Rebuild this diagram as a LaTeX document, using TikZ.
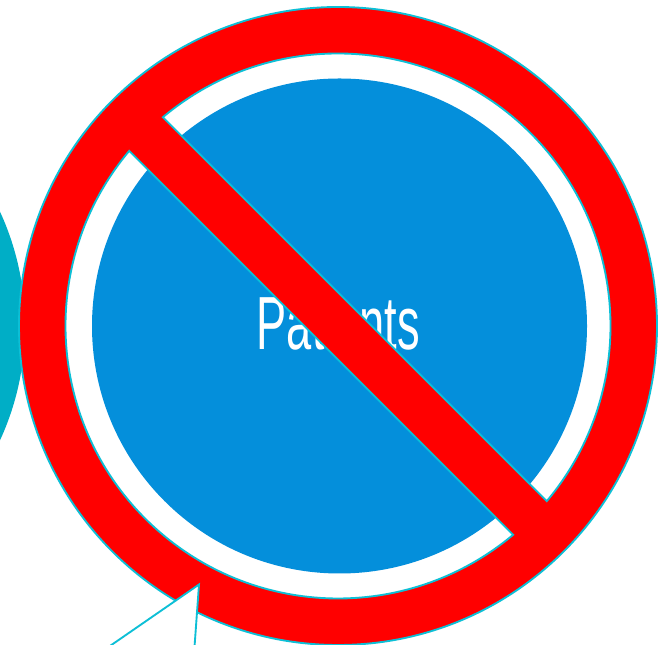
\documentclass[tikz,border=0pt]{standalone}
\usepackage{fontspec}
\usepackage{xcolor}
\setmainfont{Liberation Sans}
\definecolor{discblue}{HTML}{048FDB}
\definecolor{backteal}{HTML}{00AEC6}
\definecolor{edgecyan}{HTML}{0DBFD6}
\definecolor{signred}{HTML}{FF0000}
\begin{document}
\begin{tikzpicture}[x=0.75pt,y=0.75pt,
signline/.style={draw=edgecyan,line width=1.4pt,line join=miter},
signface/.style={signline,fill=signred,even odd rule}]
\clip(0,0)rectangle(670,645);
\fill[white](0,0)rectangle(670,645);
\fill[backteal](-248,319)circle[radius=273];
\fill[discblue](339.5,319)circle[radius=247.5];
\node[text=white,xscale=0.6,font=\fontsize{56.5}{60}\selectfont](patientlabel)at(338.5,322){Patients};
\draw[signface](338,319)circle[radius=319]
(338,319)++(130:272.5)arc[start angle=130,end angle=-40,radius=272.5]--cycle
(338,319)++(140:272.5)arc[start angle=140,end angle=310,radius=272.5]--cycle;
\draw[signline,fill=white](108.5,-2)--(199,60.5)--(194.5,-2);
\end{tikzpicture}
\end{document}
